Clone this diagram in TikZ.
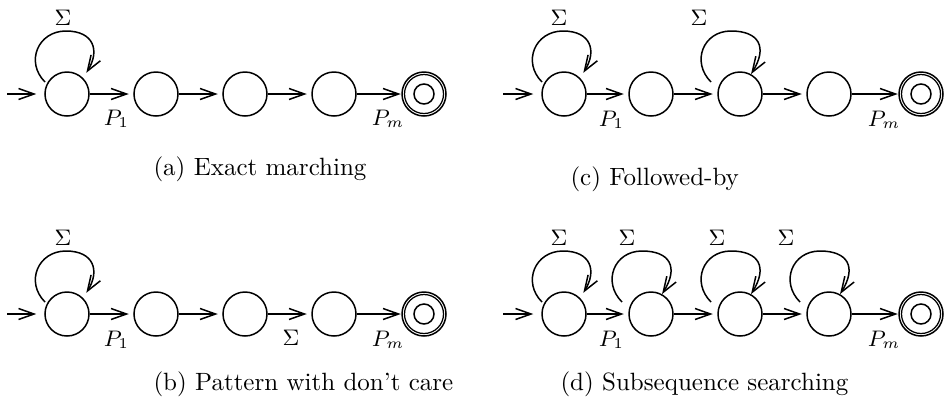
\documentclass[tikz,border=0pt]{standalone}
\usetikzlibrary{arrows.meta}
\tikzset{
  st/.style={circle, draw, line width=0.6pt, minimum size=17.6pt, inner sep=0pt},
  arr/.style={-{Straight Barb[length=6.2pt,width=4.4pt]}, line width=0.6pt},
  tr/.style={arr, shorten >=1.8pt},
  trf/.style={arr, shorten >=0.2pt},
  ini/.style={arr, shorten >=3.2pt},
  lbl/.style={font=\fontsize{8.6}{10}\selectfont, inner sep=0pt, anchor=base},
  captext/.style={font=\normalsize, inner sep=0pt, anchor=base west},
  ring/.style={line width=0.5pt},
}
% standard self loop on node #1 (starts near the node, arrow just outside it)
\newcommand\stdloop[1]{%
  \path (#1) ++(-22,-12) coordinate (#1s) (#1) ++(-1,-63) coordinate (#1t);
  \draw[arr, shorten >=2.4pt] (#1s) .. controls +(-20,-20) and +(-28,0) .. (#1t)
        .. controls +(28,0) and +(17,-27) .. (#1.45);}
% self loop shifted to the left, arrow ending on the node
\newcommand\sftloop[1]{%
  \path (#1) ++(-29,-12) coordinate (#1s) (#1) ++(-9,-63) coordinate (#1t);
  \draw[arr] (#1s) .. controls +(-20,-20) and +(-28,0) .. (#1t)
        .. controls +(28,0) and +(17,-27) .. (#1.61);}
\begin{document}
\begin{tikzpicture}[x=0.4pt, y=-0.4pt]
\useasboundingbox (0,0) rectangle (946,401);
% ---------- (a) ----------
\node[st] (a1) at (67,94) {};
\node[st] (a2) at (156,94) {};
\node[st] (a3) at (245,94) {};
\node[st] (a4) at (334,94) {};
\node[st] (a5) at (424,94) {};
\draw[ring] (a5.center) circle[radius=7.8pt];
\draw[line width=0.6pt] (a5.center) circle[radius=4pt];
\coordinate (a0) at (7,94);
\draw[ini] (a0) -- (a1);
\draw[tr] (a1) -- (a2);
\draw[tr] (a2) -- (a3);
\draw[tr] (a3) -- (a4);
\draw[trf] (a4) -- (a5);
\stdloop{a1}
\node[lbl] (aS) at (63,25) {$\Sigma$};
\node[lbl] (aP1) at (116.5,125) {$P_1$};
\node[lbl] (aPm) at (388,125) {$P_m$};
\node[captext] (acap) at (153,175) {(a) Exact marching};
% ---------- (b) ----------
\node[st] (b1) at (67,314) {};
\node[st] (b2) at (156,314) {};
\node[st] (b3) at (245,314) {};
\node[st] (b4) at (334,314) {};
\node[st] (b5) at (424,314) {};
\draw[ring] (b5.center) circle[radius=7.8pt];
\draw[line width=0.6pt] (b5.center) circle[radius=4pt];
\coordinate (b0) at (7,314);
\draw[ini] (b0) -- (b1);
\draw[tr] (b1) -- (b2);
\draw[tr] (b2) -- (b3);
\draw[tr] (b3) -- (b4);
\draw[trf] (b4) -- (b5);
\stdloop{b1}
\node[lbl] (bS) at (63,245) {$\Sigma$};
\node[lbl] (bP1) at (116.5,346) {$P_1$};
\node[lbl] (bS2) at (291,345) {$\Sigma$};
\node[lbl] (bPm) at (388,346) {$P_m$};
\node[captext] (bcap) at (153,390) {(b) Pattern with don't care};
% ---------- (c) ----------
\node[st] (c1) at (564,94) {};
\node[st] (c2) at (651,94) {};
\node[st] (c3) at (740,94) {};
\node[st] (c4) at (829,94) {};
\node[st] (c5) at (921,94) {};
\draw[ring] (c5.center) circle[radius=7.8pt];
\draw[line width=0.6pt] (c5.center) circle[radius=4pt];
\coordinate (c0) at (503,94);
\draw[ini] (c0) -- (c1);
\draw[tr] (c1) -- (c2);
\draw[tr] (c2) -- (c3);
\draw[tr] (c3) -- (c4);
\draw[trf] (c4) -- (c5);
\stdloop{c1}
\sftloop{c3}
\node[lbl] (cS1) at (559,25) {$\Sigma$};
\node[lbl] (cS3) at (699,25) {$\Sigma$};
\node[lbl] (cP1) at (611.5,126) {$P_1$};
\node[lbl] (cPm) at (884,126) {$P_m$};
\node[captext] (ccap) at (570,185) {(c) Followed-by};
% ---------- (d) ----------
\node[st] (d1) at (564,314) {};
\node[st] (d2) at (651,314) {};
\node[st] (d3) at (740,314) {};
\node[st] (d4) at (829,314) {};
\node[st] (d5) at (921,314) {};
\draw[ring] (d5.center) circle[radius=7.8pt];
\draw[line width=0.6pt] (d5.center) circle[radius=4pt];
\coordinate (d0) at (503,314);
\draw[ini] (d0) -- (d1);
\draw[tr] (d1) -- (d2);
\draw[tr] (d2) -- (d3);
\draw[tr] (d3) -- (d4);
\draw[trf] (d4) -- (d5);
\stdloop{d1}
\sftloop{d2}
\sftloop{d3}
\sftloop{d4}
\node[lbl] (dS1) at (559,245) {$\Sigma$};
\node[lbl] (dS2) at (627,245) {$\Sigma$};
\node[lbl] (dS3) at (717,245) {$\Sigma$};
\node[lbl] (dS4) at (786,245) {$\Sigma$};
\node[lbl] (dP1) at (611.5,346) {$P_1$};
\node[lbl] (dPm) at (884,346) {$P_m$};
\node[captext] (dcap) at (560,390) {(d) Subsequence searching};
\end{tikzpicture}
\end{document}
